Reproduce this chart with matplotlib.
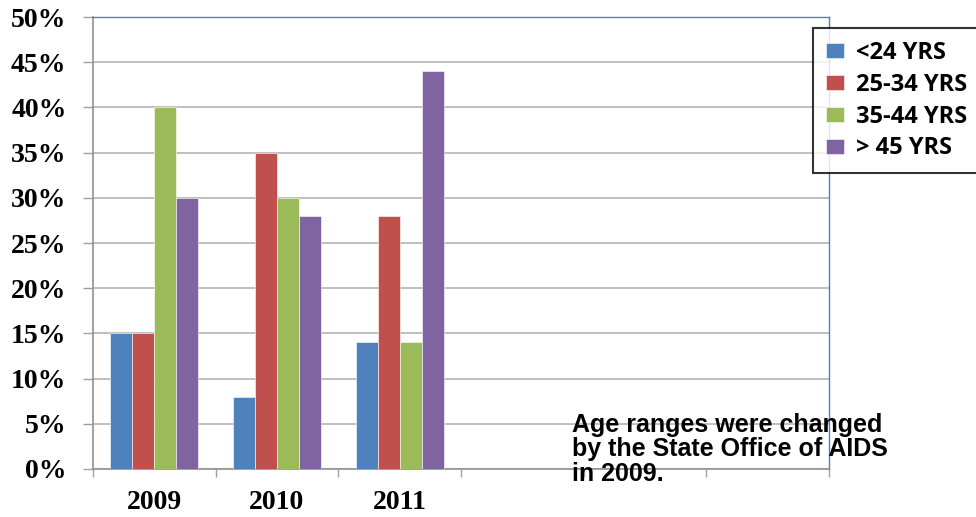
import matplotlib
matplotlib.use("Agg")
import matplotlib.pyplot as plt
import numpy as np

years = ["2009", "2010", "2011", "", "", ""]
series_names = ["<24 YRS", "25-34 YRS", "35-44 YRS", "> 45 YRS"]
under24 = [15, 8, 14]
age25_34 = [15, 35, 28]
age35_44 = [40, 30, 14]
over45 = [30, 28, 44]
colors = ["#4F81BD", "#C0504D", "#9BBB59", "#8064A2"]
yticks = [0, 5, 10, 15, 20, 25, 30, 35, 40, 45, 50]
note = "Age ranges were changed\nby the State Office of AIDS\nin 2009."

fig = plt.figure(figsize=(9.76, 5.17), dpi=100)
ax = fig.add_axes([93/976, 1-469/517, (829-93)/976, (469-17)/517])

series = [under24, age25_34, age35_44, over45]
n = len(series)
w = 0.18
x = np.arange(len(under24)) + 0.5
handles = []
for i, (vals, c, name) in enumerate(zip(series, colors, series_names)):
    off = (i - (n - 1) / 2) * w
    b = ax.bar(x + off, vals, width=w, color=c, edgecolor="white", linewidth=0.4, label=name, zorder=3)
    handles.append(b)

ax.set_xlim(0, len(years))
ax.set_ylim(0, 50)
ax.set_yticks(yticks)
ax.set_yticklabels([f"{v}%" for v in yticks], fontfamily="Liberation Serif", fontweight="bold", fontsize=20)
ax.set_xticks(np.arange(len(years)) + 0.5)
ax.set_xticklabels(years, fontfamily="Liberation Serif", fontweight="bold", fontsize=20)
ax.set_xticks(np.arange(len(years) + 1), minor=True)
ax.tick_params(axis="x", which="major", length=0, pad=15)
ax.tick_params(axis="x", which="minor", length=6, color="#A0A0A0", width=1)
ax.tick_params(axis="y", length=7, color="#A0A0A0", width=1, pad=12)
ax.grid(axis="y", color="#B4B4B4", linewidth=1.2, zorder=0)

for s in ["left", "bottom"]:
    ax.spines[s].set_color("#909090")
    ax.spines[s].set_linewidth(1.2)
for s in ["top", "right"]:
    ax.spines[s].set_color("#4F81BD")
    ax.spines[s].set_linewidth(1.0)

leg = fig.legend(handles=handles, loc="upper left", bbox_to_anchor=(813/976, 1-28/517),
                 prop={"family": "Open Sans", "weight": "bold", "size": 17},
                 frameon=True, fancybox=False, edgecolor="black", handlelength=0.75,
                 handleheight=0.6, handletextpad=0.5, labelspacing=0.33, borderpad=0.55,
                 borderaxespad=0)
leg.get_frame().set_linewidth(1.5)

fig.text(572/976, 1-413/517, note, ha="left", va="top", fontfamily="Liberation Sans",
         fontweight="bold", fontsize=18, linespacing=1.02)

fig.savefig("out.png", dpi=100)
